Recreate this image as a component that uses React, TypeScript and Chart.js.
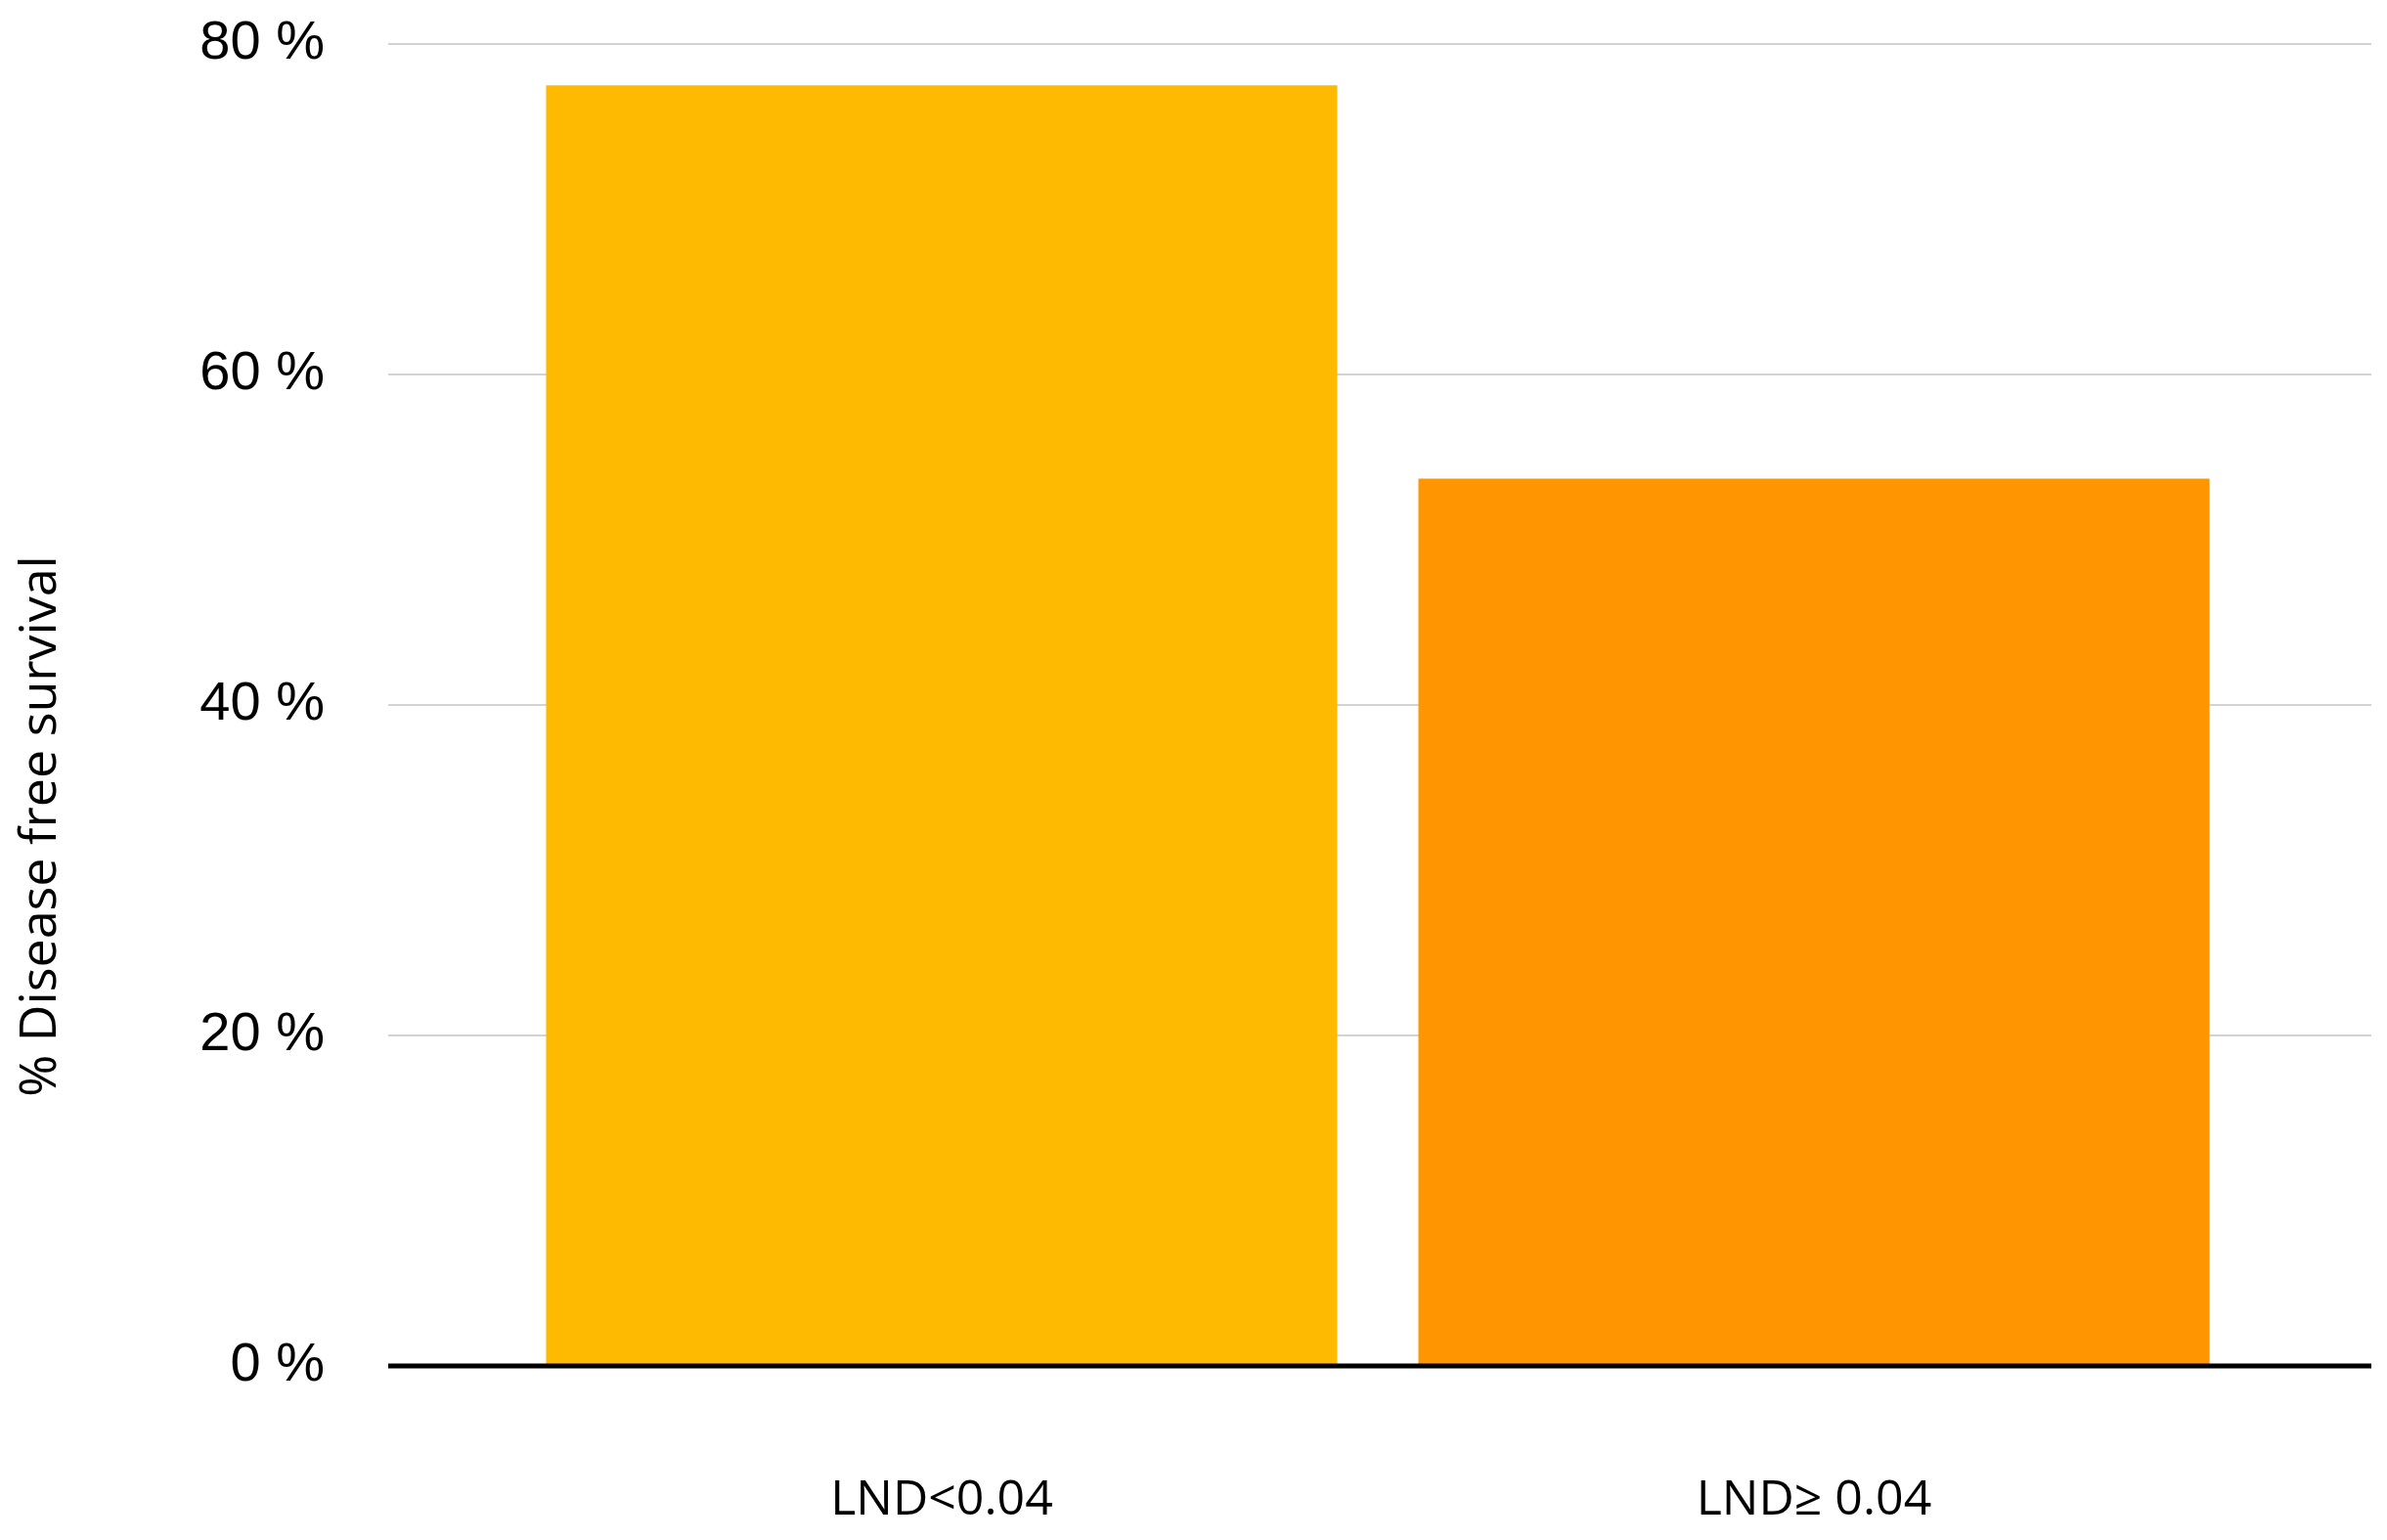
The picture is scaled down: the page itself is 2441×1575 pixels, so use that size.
import React, { useEffect, useRef } from "react";
import { Chart, registerables } from "chart.js";

Chart.register(...registerables);

const categories = ["LND<0.04", "LND\u2265 0.04"];
const survival = [77.5, 53.7];
const barColors = ["#FEBA00", "#FF9500"];
const yTicks = [0, 20, 40, 60, 80];
const yTitle = "% Disease free survival";

export default function App() {
  const ref = useRef<HTMLCanvasElement | null>(null);

  useEffect(() => {
    document.body.style.margin = "0";
    const canvas = ref.current;
    if (!canvas) return;

    const zeroLine = {
      id: "zeroLine",
      afterDatasetsDraw(chart: any) {
        const { ctx, chartArea, scales } = chart;
        const y = scales.y.getPixelForValue(0);
        ctx.save();
        ctx.strokeStyle = "#000000";
        ctx.lineWidth = 5;
        ctx.beginPath();
        ctx.moveTo(chartArea.left, y);
        ctx.lineTo(chartArea.right, y);
        ctx.stroke();
        ctx.restore();
      },
    };

    const yTitlePlugin = {
      id: "yTitleDraw",
      afterDraw(chart: any) {
        const { ctx } = chart;
        ctx.save();
        ctx.translate(42, 845);
        ctx.rotate(-Math.PI / 2);
        ctx.font = "52px 'Open Sans'";
        ctx.fillStyle = "#000000";
        ctx.textAlign = "center";
        ctx.textBaseline = "middle";
        ctx.fillText(yTitle, 0, 0);
        ctx.restore();
      },
    };

    const chart = new Chart(canvas, {
      type: "bar",
      data: {
        datasets: [
          {
            data: survival.map((v, i) => ({ x: i, y: v })),
            backgroundColor: barColors,
            borderWidth: 0,
            barPercentage: 0.907,
            categoryPercentage: 1,
          },
        ],
      },
      options: {
        animation: false,
        responsive: false,
        maintainAspectRatio: false,
        layout: { padding: { top: 45, right: 16, left: 0, bottom: 0 } },
        plugins: {
          legend: { display: false },
          tooltip: { enabled: false },
          title: { display: false },
        },
        scales: {
          x: {
            type: "linear",
            offset: false,
            min: -0.6345,
            max: 1.639,
            grid: { display: false, offset: false },
            border: { display: false },
            afterBuildTicks: (scale: any) => {
              scale.ticks = categories.map((_, i) => ({ value: i }));
            },
            afterFit: (scale: any) => {
              scale.height = 178;
            },
            ticks: {
              autoSkip: false,
              maxRotation: 0,
              minRotation: 0,
              padding: 100,
              color: "#000000",
              font: { family: "'Open Sans'", size: 50 },
              callback: (v: any) => categories[Math.round(Number(v))] ?? "",
            },
          },
          y: {
            min: 0,
            max: 80,
            afterBuildTicks: (scale: any) => {
              scale.ticks = yTicks.map((v) => ({ value: v }));
            },
            afterFit: (scale: any) => {
              scale.width = 397;
            },
            grid: {
              drawTicks: true,
              tickLength: 65,
              tickColor: "rgba(0,0,0,0)",
              lineWidth: 2,
              color: (c: any) => (c.tick && c.tick.value === 0 ? "rgba(0,0,0,0)" : "#d3d3d3"),
            },
            border: { display: false },
            ticks: {
              padding: 0,
              color: "#000000",
              font: { family: "'Liberation Sans', Arial, sans-serif", size: 56 },
              callback: (v: any) => `${v} %`,
            },
          },
        },
      },
      plugins: [zeroLine, yTitlePlugin],
    } as any);

    return () => chart.destroy();
  }, []);

  return (
    <div style={{ width: 2441, height: 1575 }}>
      <canvas ref={ref} width={2441} height={1575} style={{ display: "block" }} />
    </div>
  );
}
